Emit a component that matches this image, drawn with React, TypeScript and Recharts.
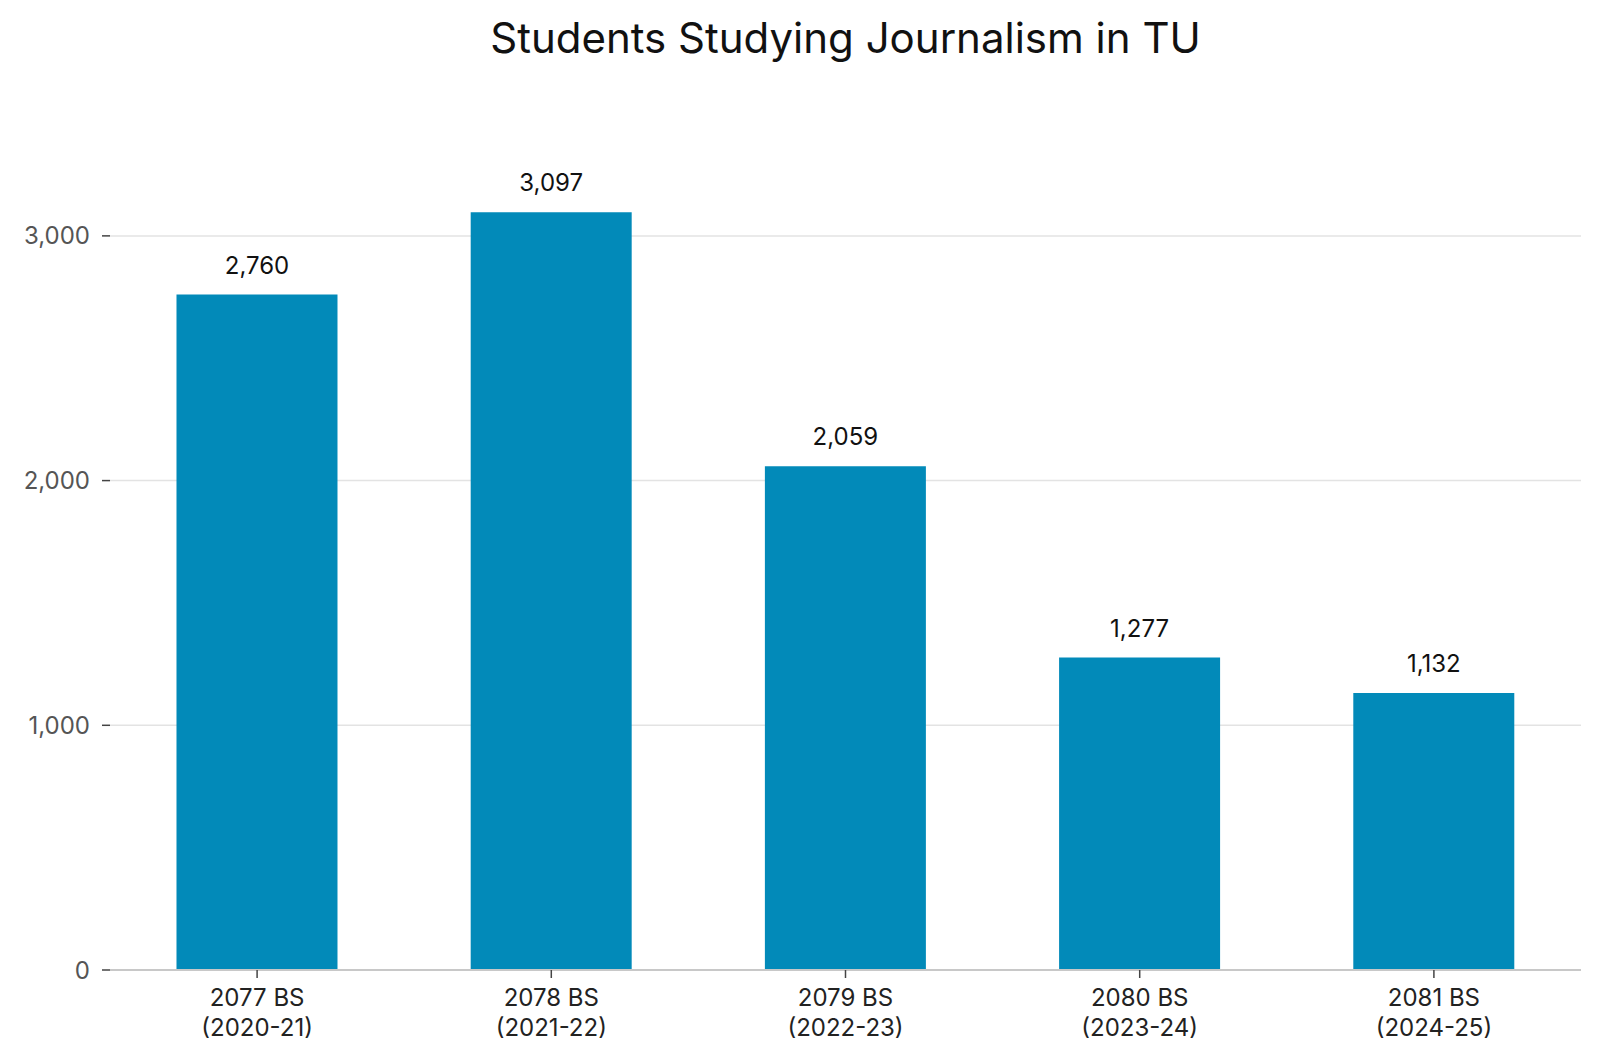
import { BarChart, Bar, XAxis, YAxis, CartesianGrid, LabelList } from "recharts";

const years = ["2077 BS", "2078 BS", "2079 BS", "2080 BS", "2081 BS"];
const periods = ["(2020-21)", "(2021-22)", "(2022-23)", "(2023-24)", "(2024-25)"];
const students = [2760, 3097, 2059, 1277, 1132];
const yTicks = [0, 1000, 2000, 3000];

const data = years.map((year, i) => ({
  year,
  period: periods[i],
  students: students[i],
}));

const FONT = "Inter, 'Noto Sans', sans-serif";

const fmt = (v: any) => Number(v).toLocaleString("en-US");

const XTick = ({ x, y, payload, index }: any) => (
  <text x={x} y={y} textAnchor="middle" fill="#222" fontSize={24} fontFamily={FONT}>
    <tspan x={x} dy={26}>{payload.value}</tspan>
    <tspan x={x} dy={30}>{periods[index]}</tspan>
  </text>
);

const App = () => {
  return (
    <div style={{ position: "absolute", left: 0, top: 0, width: 1600, height: 1061, background: "#fff" }}>
      <div
        style={{
          position: "absolute",
          left: 110,
          width: 1471,
          top: 12,
          textAlign: "center",
          fontFamily: FONT,
          fontSize: 42,
          lineHeight: "52px",
          color: "#111",
        }}
      >
        Students Studying Journalism in TU
      </div>
      <BarChart
        width={1600}
        height={1061}
        data={data}
        margin={{ top: 138, right: 19, bottom: 0, left: 0 }}
        barCategoryGap="22.6%"
      >
        <CartesianGrid
          vertical={false}
          horizontalValues={[1000, 2000, 3000]}
          stroke="#e3e3e3"
          strokeWidth={1.5}
        />
        <XAxis
          dataKey="year"
          height={91}
          tick={<XTick />}
          axisLine={{ stroke: "#c8c8c8", strokeWidth: 2 }}
          tickLine={{ stroke: "#444", strokeWidth: 1.5 }}
          tickSize={8}
          interval={0}
        />
        <YAxis
          width={110}
          domain={[0, 3400]}
          ticks={yTicks}
          tickFormatter={fmt}
          axisLine={false}
          tickLine={{ stroke: "#444", strokeWidth: 1.5 }}
          tickSize={8}
          tickMargin={12}
          tick={{ fill: "#555", fontSize: 24, fontFamily: FONT }}
        />
        <Bar dataKey="students" fill="#028ab9" isAnimationActive={false}>
          <LabelList
            dataKey="students"
            position="top"
            offset={21}
            formatter={fmt}
            fill="#111"
            fontSize={24}
            fontFamily={FONT}
          />
        </Bar>
      </BarChart>
    </div>
  );
};

export default App;
